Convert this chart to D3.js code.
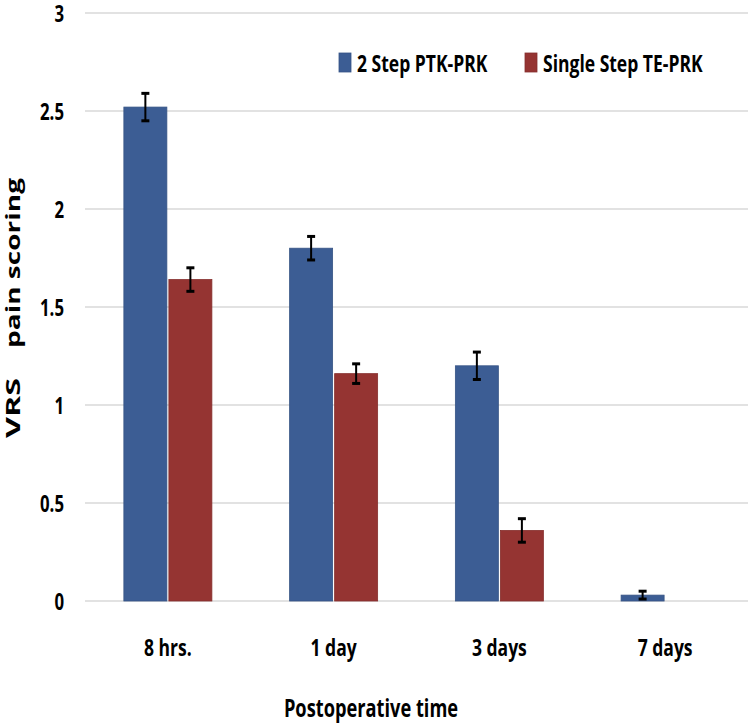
<!DOCTYPE html>
<html>
<head>
<meta charset="utf-8">
<script src="https://cdn.jsdelivr.net/npm/d3@7"></script>
<style>
  body { margin: 0; background: #fff; }
  text { font-family: "Open Sans", "Noto Sans", sans-serif; }
</style>
</head>
<body>
<div id="chart"></div>
<script>
const width = 750;
const height = 726;

// データ
const categories = ["8 hrs.", "1 day", "3 days", "7 days"];
const series = ["2 Step PTK-PRK", "Single Step TE-PRK"];
const ptkValues = [2.52, 1.80, 1.20, 0.03];
const ptkErrors = [0.07, 0.06, 0.07, 0.02];
const teValues = [1.64, 1.16, 0.36, 0];
const teErrors = [0.06, 0.05, 0.06, 0];
const yTicks = [0, 0.5, 1, 1.5, 2, 2.5, 3];
const colors = ["#3c5d94", "#953432"];

const rows = categories.map((c, i) => ({
    cat: c,
    bars: [
        {s: series[0], v: ptkValues[i], e: ptkErrors[i]},
        {s: series[1], v: teValues[i], e: teErrors[i]}
    ]
}));

const margin = {left: 85, right: 2, top: 13, bottom: 125};
const sx = 0.73;   // 横に詰まった文字

const svg = d3.select("#chart").append("svg")
    .attr("width", width)
    .attr("height", height);

const y = d3.scaleLinear()
    .domain([0, 3])
    .range([height - margin.bottom, margin.top]);

const x0 = d3.scaleBand()
    .domain(categories)
    .range([margin.left, width - margin.right])
    .paddingInner(0.469)
    .paddingOuter(0.2345);

const x1 = d3.scaleBand()
    .domain(series)
    .range([0, x0.bandwidth()])
    .paddingInner(0.045);

const color = d3.scaleOrdinal().domain(series).range(colors);

// グリッド線
svg.append("g")
    .selectAll("line")
    .data(yTicks)
    .join("line")
        .attr("x1", margin.left)
        .attr("x2", width - margin.right)
        .attr("y1", d => y(d))
        .attr("y2", d => y(d))
        .attr("stroke", "#d9d9d9")
        .attr("stroke-width", 1.5);

// y軸ラベル
const yAxis = svg.append("g")
    .attr("transform", `translate(${margin.left},0)`)
    .call(d3.axisLeft(y).tickValues(yTicks).tickFormat(d3.format("")).tickSize(0).tickPadding(21));
yAxis.select(".domain").remove();
yAxis.selectAll("text")
    .attr("font-size", 23)
    .attr("font-weight", 700)
    .attr("fill", "#000")
    .attr("font-family", "'Open Sans', sans-serif")
    .attr("transform", `scale(${sx},1)`)
    .attr("x", -21 / sx)
    .attr("dy", "0.36em");

// 棒
const groups = svg.append("g")
    .selectAll("g")
    .data(rows)
    .join("g")
        .attr("transform", d => `translate(${x0(d.cat)},0)`);

groups.selectAll("rect")
    .data(d => d.bars)
    .join("rect")
        .attr("x", d => x1(d.s))
        .attr("y", d => y(d.v))
        .attr("width", x1.bandwidth())
        .attr("height", d => y(0) - y(d.v))
        .attr("fill", d => color(d.s))
        .attr("stroke", d => d3.color(color(d.s)).darker(0.3))
        .attr("stroke-width", 0.8);

// エラーバー
const err = groups.selectAll("g.err")
    .data(d => d.bars.filter(b => b.e > 0))
    .join("g")
        .attr("class", "err")
        .attr("transform", d => `translate(${x1(d.s) + x1.bandwidth() / 2},0)`);

err.append("line")
    .attr("y1", d => y(d.v + d.e))
    .attr("y2", d => y(d.v - d.e))
    .attr("stroke", "#000")
    .attr("stroke-width", 2);
err.selectAll("line.cap")
    .data(d => [d.v + d.e, d.v - d.e])
    .join("line")
        .attr("class", "cap")
        .attr("x1", -4)
        .attr("x2", 4)
        .attr("y1", d => y(d))
        .attr("y2", d => y(d))
        .attr("stroke", "#000")
        .attr("stroke-width", 3);

// x軸ラベル
svg.append("g")
    .selectAll("text")
    .data(categories)
    .join("text")
        .attr("transform", d => `translate(${x0(d) + x0.bandwidth() / 2},656) scale(${sx},1)`)
        .attr("text-anchor", "middle")
        .attr("font-size", 24)
        .attr("font-weight", 700)
        .text(d => d);

svg.append("text")
    .attr("transform", `translate(371,717) scale(${sx},1)`)
    .attr("text-anchor", "middle")
    .attr("font-size", 25)
    .attr("font-weight", 700)
    .text("Postoperative time");

// y軸タイトル
svg.append("text")
    .attr("transform", "translate(20,408) rotate(-90)")
    .attr("text-anchor", "middle")
    .attr("font-family", "'Liberation Sans', Arial, sans-serif")
    .attr("font-weight", "bold")
    .attr("font-size", 20)
    .attr("textLength", 60)
    .attr("lengthAdjust", "spacingAndGlyphs")
    .text("VRS");
svg.append("text")
    .attr("transform", "translate(20,263) rotate(-90)")
    .attr("text-anchor", "middle")
    .attr("font-family", "'Liberation Sans', Arial, sans-serif")
    .attr("font-weight", "bold")
    .attr("font-size", 20)
    .attr("textLength", 170)
    .attr("lengthAdjust", "spacingAndGlyphs")
    .text("pain scoring");

// 凡例
const legendX = [339, 525];
const legend = svg.append("g")
    .selectAll("g")
    .data(series)
    .join("g")
        .attr("transform", (d, i) => `translate(${legendX[i]},53)`);
legend.append("rect")
    .attr("width", 12)
    .attr("height", 19)
    .attr("fill", d => color(d))
    .attr("stroke", d => d3.color(color(d)).darker(0.3))
    .attr("stroke-width", 0.8);
legend.append("text")
    .attr("transform", `translate(18,19) scale(${sx},1)`)
    .attr("font-size", 24)
    .attr("font-weight", 700)
    .text(d => d);
</script>
</body>
</html>
